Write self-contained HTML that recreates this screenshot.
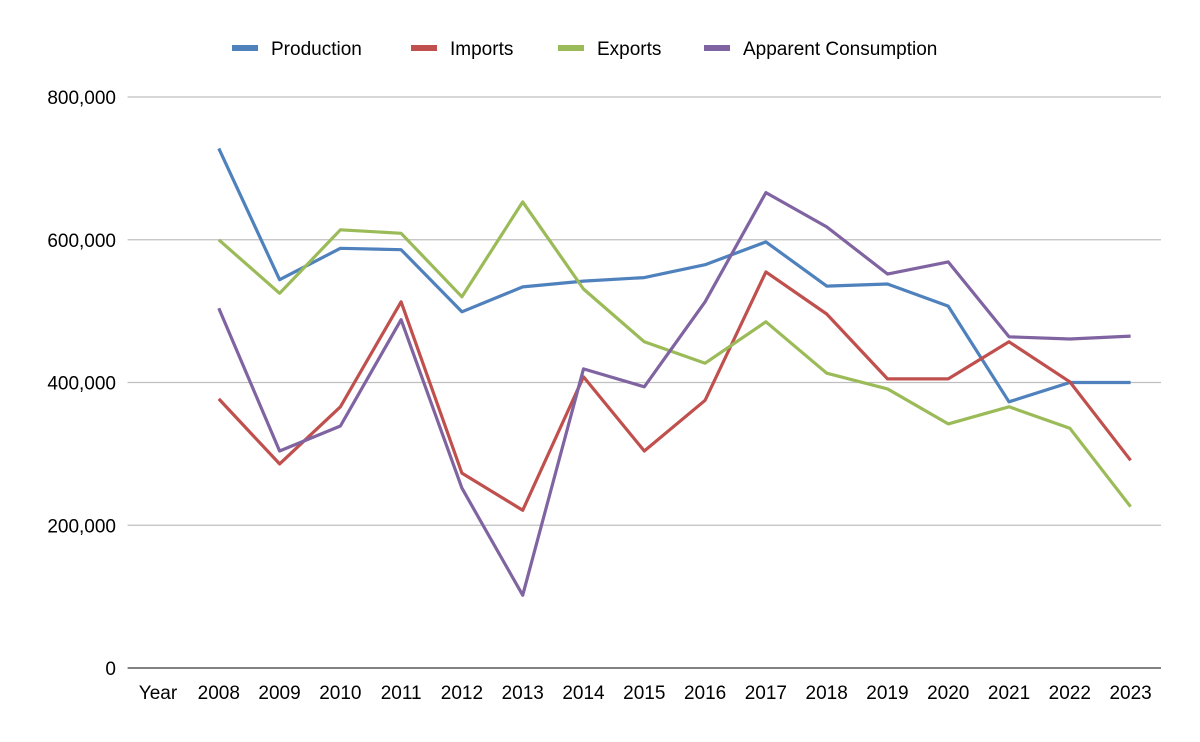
<!DOCTYPE html>
<html><head><meta charset="utf-8"><style>
body{margin:0;background:#fff;}
svg{display:block;font-family:"Liberation Sans",sans-serif;}
</style></head><body>
<svg id="chart" width="1200" height="742" viewBox="0 0 1200 742"></svg>
<script>
const categories=["Year","2008","2009","2010","2011","2012","2013","2014","2015","2016","2017","2018","2019","2020","2021","2022","2023"];
const seriesNames=["Production","Imports","Exports","Apparent Consumption"];
const seriesColors=["#4F81BD","#C0504D","#9BBB59","#8064A2"];
const production=[null,728000,544000,588000,586000,499000,534000,542000,547000,565000,597000,535000,538000,507000,373000,400000,400000];
const imports=[null,377000,286000,366000,513000,273000,221000,408000,304000,375000,555000,496000,405000,405000,457000,401000,291000];
const exportsV=[null,600000,525000,614000,609000,520000,653000,531000,457000,427000,485000,413000,391000,342000,366000,336000,226000];
const consumption=[null,504000,304000,339000,488000,252000,102000,419000,394000,513000,666000,618000,552000,569000,464000,461000,465000];
const yTicks=[0,200000,400000,600000,800000];
const yTickLabels=["0","200,000","400,000","600,000","800,000"];

const NS="http://www.w3.org/2000/svg";
const svgEl=document.getElementById('chart');
const plotLeft=127.6,plotRight=1161,plotTop=97,plotBottom=668,yMax=800000;
const step=(plotRight-plotLeft)/categories.length;
function xPos(i){return plotLeft+step*(i+0.5);}
function yPos(v){return plotBottom-(v/yMax)*(plotBottom-plotTop);}
function mk(t,a){const e=document.createElementNS(NS,t);for(const k in a)e.setAttribute(k,a[k]);svgEl.appendChild(e);return e;}

yTicks.forEach((v,i)=>{
  if(v>0){const g=mk('line',{x1:plotLeft,x2:plotRight,y1:yPos(v),y2:yPos(v),stroke:'#bfbfbf','stroke-width':1.3});
  
  }
  const t=mk('text',{x:116,y:yPos(v)+7,'text-anchor':'end','font-size':19,fill:'#000'});
  t.textContent=yTickLabels[i];
  
  
});
const ax=mk('line',{x1:plotLeft,x2:plotRight,y1:plotBottom,y2:plotBottom,stroke:'#595959','stroke-width':1.5});


categories.forEach((c,i)=>{
  const t=mk('text',{x:xPos(i),y:699,'text-anchor':'middle','font-size':19,fill:'#000'});
  t.textContent=c;
  
  
});
const allSeries=[production,imports,exportsV,consumption];
allSeries.forEach((s,k)=>{
  const pts=[];s.forEach((v,i)=>{if(v!=null)pts.push(xPos(i).toFixed(1)+','+yPos(v).toFixed(1));});
  const p=mk('polyline',{points:pts.join(' '),fill:'none',stroke:seriesColors[k],'stroke-width':3.2,'stroke-linejoin':'round'});
  
  
});
const legX=[232,411,558,704];
seriesNames.forEach((n,k)=>{
  const r=mk('rect',{x:legX[k],y:45,width:26,height:6,fill:seriesColors[k]});
  
  
  const t=mk('text',{x:legX[k]+39,y:55,'font-size':19,fill:'#000'});
  t.textContent=n;
  
  
});
</script>
</body></html>
